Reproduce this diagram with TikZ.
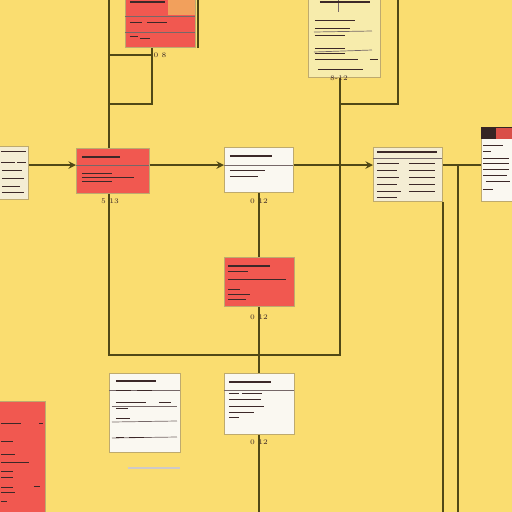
\documentclass[tikz,border=0pt]{standalone}
\usetikzlibrary{arrows,calc,positioning}
\definecolor{padbg}{RGB}{250,221,112}
\definecolor{wire}{RGB}{80,72,22}
\definecolor{cardred}{RGB}{241,88,80}
\definecolor{cardorange}{RGB}{242,160,92}
\definecolor{cardwhite}{RGB}{250,248,241}
\definecolor{cardpaper}{RGB}{247,236,172}
\definecolor{cardcream}{RGB}{244,237,212}
\definecolor{boxedge}{RGB}{190,170,110}
\definecolor{ink}{RGB}{60,40,40}
\newcommand{\cardlines}[2]{%
  \foreach \dx/\dy/\len/\w in {#2}
    \draw[line width=\w pt, ink] ($(#1.north west)+(\dx,\dy)$) -- ++(\len,0);}

\begin{document}
\begin{tikzpicture}[x=0.02cm, y=-0.02cm,
    box/.style={draw=boxedge, line width=0.5pt, anchor=north west, inner sep=0pt},
    redbox/.style={box, fill=cardred},
    whitebox/.style={box, fill=cardwhite},
    paperbox/.style={box, fill=cardpaper},
    creambox/.style={box, fill=cardcream},
    wire/.style={draw=wire, line width=0.9pt},
    flow/.style={wire, ->, >=stealth},
    rule/.style={draw=ink!70, line width=0.4pt},
    tag/.style={font=\fontsize{4}{4}\selectfont, text=ink}
]

% Background
\fill[padbg] (0,0) rectangle (512,512);
\useasboundingbox (0,0) rectangle (512,512);
\clip (0,0) rectangle (512,512);

% Cards
\node[redbox, minimum width=1.40cm, minimum height=0.96cm] (b1) at (125,-1) {};
\node[paperbox, minimum width=1.44cm, minimum height=1.56cm] (b10) at (308,-1) {};
\node[creambox, minimum width=0.58cm, minimum height=1.06cm] (b0) at (-1,146) {};
\node[redbox, minimum width=1.46cm, minimum height=0.90cm] (b2) at (76,148) {};
\node[whitebox, minimum width=1.38cm, minimum height=0.90cm] (b3) at (224,147) {};
\node[creambox, minimum width=1.38cm, minimum height=1.08cm] (b4) at (373,147) {};
\node[whitebox, minimum width=0.80cm, minimum height=1.48cm] (b5) at (481,127) {};
\node[redbox, minimum width=1.40cm, minimum height=0.98cm] (b6) at (224,257) {};
\node[whitebox, minimum width=1.42cm, minimum height=1.58cm] (b7) at (109,373) {};
\node[whitebox, minimum width=1.40cm, minimum height=1.22cm] (b8) at (224,373) {};
\node[redbox, minimum width=0.92cm, minimum height=2.40cm] (b9) at (-1,401) {};

% Card details
\fill[cardorange] (168,0) rectangle (195,15);
\draw[rule] (125,16) -- (195,16);
\draw[rule] (125,32) -- (195,32);
\cardlines{b1}{5/3/35/0.8, 5/23/12/0.5, 22/23/20/0.5, 5/37/8/0.4, 15/39/10/0.5}
\draw[rule] (338,0) -- (338,12);
\draw[rule] (314,32) -- (372,31);
\draw[rule] (314,52) -- (372,50);
\cardlines{b10}{12/3/50/0.7, 7/21/40/0.5, 7/29/35/0.4, 7/36/30/0.5, 7/49/30/0.4, 7/54/30/0.5, 7/60/28/0.4, 35/60/15/0.4, 62/60/8/0.5, 10/70/45/0.5}
\cardlines{b0}{2/5/25/0.4, 2/16/14/0.4, 18/16/9/0.4, 3/24/20/0.3, 3/32/22/0.3, 3/40/18/0.3, 3/46/22/0.3}
\draw[rule] (76,165) -- (149,165);
\cardlines{b2}{6/9/38/0.8, 6/25/30/0.5, 6/29/52/0.35, 6/33/30/0.35}
\draw[rule] (224,165) -- (293,165);
\cardlines{b3}{6/9/42/0.8, 6/23/35/0.4, 6/29/28/0.4}
\draw[rule] (373,158) -- (442,158);
\cardlines{b4}{4/5/60/0.6, 4/16/22/0.4, 36/16/26/0.4, 4/23/20/0.4, 36/23/26/0.4, 4/30/22/0.4, 36/30/26/0.4, 4/37/20/0.4, 36/37/26/0.4, 4/44/24/0.4, 36/44/26/0.4, 4/50/20/0.4}
\fill[ink!90!black] (481,127) rectangle (512,139);
\fill[cardred!90!black] (496,128) rectangle (512,139);
\cardlines{b5}{2/18/20/0.5, 2/24/8/0.4, 2/31/26/0.4, 2/36/26/0.4, 2/42/26/0.4, 2/48/24/0.4, 5/54/24/0.4, 2/62/10/0.4}
\cardlines{b6}{4/9/42/0.7, 4/14/20/0.4, 4/22/58/0.4, 4/32/12/0.4, 4/37/22/0.4, 4/42/18/0.4}
\draw[rule] (109,390) -- (180,390);
\draw[rule] (112,406) -- (177,406);
\draw[rule] (112,422) -- (177,421);
\draw[rule] (112,438) -- (177,437);
\cardlines{b7}{7/8/40/0.9, 7/17/15/0.5, 28/17/15/0.5, 7/29/30/0.4, 50/29/12/0.5, 7/35/12/0.5, 7/45/14/0.5, 7/64/8/0.4, 20/64/15/0.5}
\draw[line width=1pt, ink!25] (128,468) -- (180,468);
\draw[rule] (224,390) -- (294,390);
\cardlines{b8}{5/9/42/0.9, 5/20/10/0.4, 18/20/20/0.4, 5/26/32/0.4, 5/33/35/0.4, 5/39/25/0.4, 5/44/10/0.4}
\cardlines{b9}{2/22/20/0.4, 40/22/4/0.4, 2/40/12/0.4, 2/53/14/0.4, 2/61/28/0.4, 2/70/12/0.4, 2/76/12/0.4, 2/86/12/0.4, 35/85/6/0.4, 2/91/14/0.4, 2/100/6/0.4}

% Free ends
\coordinate (nA) at (109,0);
\coordinate (nB) at (398,0);
\coordinate (nC) at (198,0);
\coordinate (kA) at (109,355);
\coordinate (kB) at (340,355);
\coordinate (kC) at (340,104);
\coordinate (kD) at (398,104);
\coordinate (kE) at (109,55);
\coordinate (kF) at (152,55);
\coordinate (kG) at (152,104);
\coordinate (kH) at (109,104);
\coordinate (row) at (0,165);
\coordinate (sA) at (458,165);
\coordinate (floor) at (0,512);

% Connectors
\draw[wire] (nA) -- (nA |- b2.north);
\draw[wire] (nA |- b2.south) -- (kA) -- (kB) -- (kB |- b10.south);
\draw[wire] (nB) -- (kD) -- (kC);
\draw[wire] (nC) -- (nC |- b1.south);
\draw[wire] (kE) -- (kF);
\draw[wire] (kF |- b1.south) -- (kG) -- (kH);
\draw[flow] (b0.east |- row) -- (b2.west |- row);
\draw[flow] (b2.east |- row) -- (b3.west |- row);
\draw[flow] (b3.east |- row) -- (b4.west |- row);
\draw[wire] (b4.east |- row) -- (b5.west |- row);
\draw[wire] (sA) -- (sA |- floor);
\draw[wire] (b4.south east) -- (b4.south east |- floor);
\draw[wire] (b3.south) -- (b3.south |- b6.north);
\draw[wire] (b3.south |- b6.south) -- (b3.south |- b8.north);
\draw[wire] (b3.south |- b8.south) -- (b3.south |- floor);

% Tags
\node[tag] (t1) at (160,55) {0 8};
\node[tag] (t2) at (110,201) {5 13};
\node[tag] (t3) at (259,201) {0 12};
\node[tag] (t4) at (259,317) {0 12};
\node[tag] (t5) at (259,442) {0 12};
\node[tag] (t6) at (339,78) {8-12};

\end{tikzpicture}
\end{document}
